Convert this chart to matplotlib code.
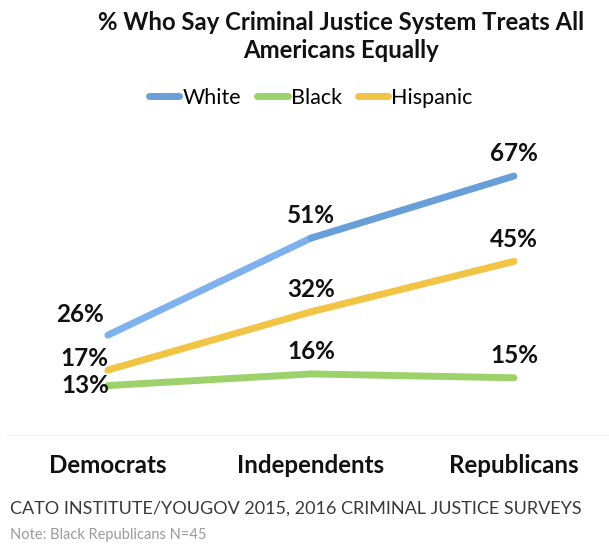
import matplotlib.pyplot as plt
import numpy as np

plt.rcParams['font.family'] = ['Lato', 'DejaVu Sans']

parties = ['Democrats', 'Independents', 'Republicans']
white = [26, 51, 67]
black = [13, 16, 15]
hispanic = [17, 32, 45]

fig = plt.figure(figsize=(6.09, 5.5), dpi=100)
ax = fig.add_axes([6 / 609, 114 / 550, 603 / 609, 317 / 550])

x = np.arange(len(parties))
lw = 5.0

# white line is drawn as two segments, lighter on the first
white_cols = ['#7fb1ee', '#699fd8']
for i in range(len(x) - 1):
    ax.plot(x[i:i + 2], white[i:i + 2], color=white_cols[i], lw=lw,
            solid_capstyle='round', zorder=3)
ax.plot(x, black, color='#9dd16a', lw=lw, solid_capstyle='round', zorder=3)
ax.plot(x, hispanic, color='#f2c446', lw=lw, solid_capstyle='round', zorder=3)

# value labels (Democrats ones sit to the left of the line start)
lab = dict(fontsize=17.5, fontweight='bold', ha='center', va='center', color='#111111')
dem_offsets = {'w': (-20, 15), 'h': (-17.3, 8), 'b': (-16.6, 0)}
for key, series in [('w', white), ('h', hispanic), ('b', black)]:
    for i, v in enumerate(series):
        off = dem_offsets[key] if i == 0 else (0, 16)
        ax.annotate(f'{v}%', (x[i], v), xytext=off, textcoords='offset points', **lab)

ax.set_xlim(-0.502, 2.468)
ax.set_ylim(0, 81.7)
ax.axhline(0, color='#f0f0f0', lw=1.2, zorder=1)
ax.set_xticks([])
ax.set_yticks([])
for s in ax.spines.values():
    s.set_visible(False)

for i, p in enumerate(parties):
    ax.text(x[i], -0.092, p, transform=ax.get_xaxis_transform(), ha='center',
            va='center', fontsize=17.4, fontweight='bold', color='#111111',
            clip_on=False)

fig.text(341 / 609, 1 - 22 / 550, '% Who Say Criminal Justice System Treats All',
         ha='center', va='center', fontsize=17.2, fontweight='bold', color='#111111')
fig.text(341 / 609, 1 - 50 / 550, 'Americans Equally',
         ha='center', va='center', fontsize=17.2, fontweight='bold', color='#111111')

handles = [plt.Line2D([], [], color=c, lw=lw, solid_capstyle='round')
           for c in ['#6a9fd8', '#9dd16a', '#f2c446']]
fig.legend(handles, ['White', 'Black', 'Hispanic'], loc='center',
           bbox_to_anchor=(311 / 609, 1 - 98 / 550), ncol=3, frameon=False,
           fontsize=15.5, handlelength=1.4, handletextpad=0.15, columnspacing=0.75)

fig.text(10 / 609, 1 - 509 / 550, 'CATO INSTITUTE/YOUGOV 2015, 2016 CRIMINAL JUSTICE SURVEYS',
         ha='left', va='center', fontsize=13, color='#3a3a3a')
fig.text(10 / 609, 1 - 535 / 550, 'Note: Black Republicans N=45',
         ha='left', va='center', fontsize=10.5, color='#9a9a9a')

fig.savefig('out.png', dpi=100)
